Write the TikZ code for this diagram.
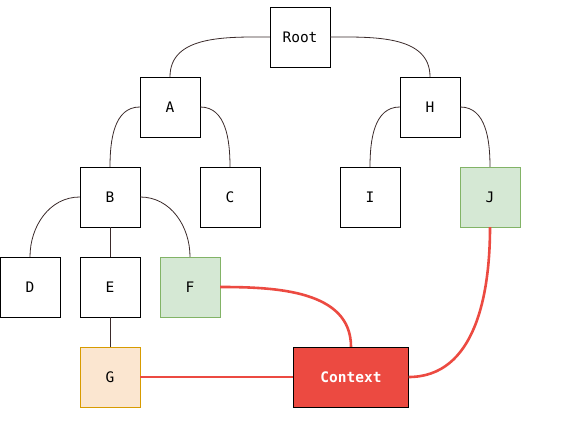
\documentclass[tikz,border=0pt]{standalone}
\usepackage{fontspec}
\setmainfont{DejaVu Sans Mono}
\definecolor{greenfill}{HTML}{D5E8D4}
\definecolor{greenline}{HTML}{82B366}
\definecolor{orangefill}{HTML}{FBE6D0}
\definecolor{orangeline}{HTML}{D79B00}
\definecolor{ctxred}{HTML}{EC4A41}
\definecolor{treeline}{HTML}{3A2A2A}
\tikzset{
  box/.style={draw=black, fill=white, minimum width=60pt, minimum height=60pt, inner sep=0pt, font=\fontsize{14.5}{16}\selectfont},
  hit/.style={box, draw=greenline, fill=greenfill},
  leaf/.style={box, draw=orangeline, fill=orangefill},
  ctx/.style={box, fill=ctxred, text=white, minimum width=115pt, font=\fontsize{14.5}{16}\selectfont\bfseries},
  branch/.style={draw=treeline, line width=0.8pt},
  link/.style={draw=ctxred, line width=2.6pt},
}
\begin{document}
\begin{tikzpicture}[x=1pt, y=-1pt]
\useasboundingbox (0,0) rectangle (562,425);
\node[box] (root) at (300,37) {Root};
\node[box] (a) at (170,107) {A};
\node[box] (h) at (430,107) {H};
\node[box] (b) at (110,197) {B};
\node[box] (c) at (230,197) {C};
\node[box] (i) at (370,197) {I};
\node[hit] (j) at (490,197) {J};
\node[box] (d) at (30,287) {D};
\node[box] (e) at (110,287) {E};
\node[hit] (f) at (190,287) {F};
\node[leaf] (g) at (110,377) {G};
\node[ctx] (context) at (351,377) {Context};
% tree
\draw[branch] (root.west) to[out=180, in=90] (a.north);
\draw[branch] (root.east) to[out=0, in=90] (h.north);
\draw[branch] (a.west) to[out=180, in=90] (b.north);
\draw[branch] (a.east) to[out=0, in=90] (c.north);
\draw[branch] (h.west) to[out=180, in=90] (i.north);
\draw[branch] (h.east) to[out=0, in=90] (j.north);
\draw[branch] (b.west) to[out=180, in=90] (d.north);
\draw[branch] (b.east) to[out=0, in=90] (f.north);
\draw[branch] (b) -- (e);
\draw[branch] (e) -- (g);
% context links
\draw[link] (g) -- (context);
\draw[link] (f.east) to[out=0, in=90] (context.north);
\draw[link] (j.south) to[out=-90, in=0] (context.east);
\end{tikzpicture}
\end{document}
